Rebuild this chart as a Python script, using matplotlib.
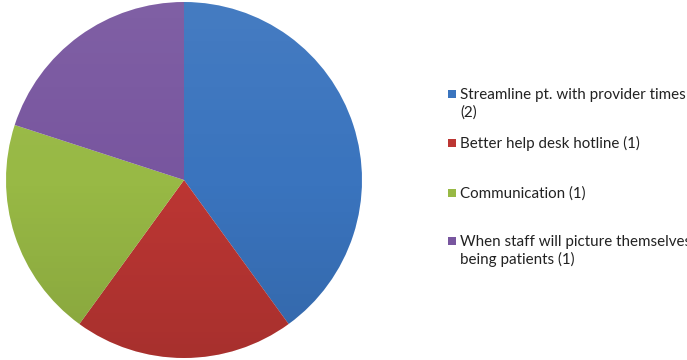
import matplotlib
matplotlib.use("Agg")
import matplotlib.pyplot as plt
import numpy as np
from matplotlib.patches import Rectangle, Circle

labels = ["Streamline pt. with provider times\n(2)",
          "Better help desk hotline (1)",
          "Communication (1)",
          "When staff will picture themselves\nbeing patients (1)"]
values = [2, 1, 1, 1]
colors = ["#3A74BE", "#BC3633", "#98B945", "#78569F"]

W, H = 687, 360
fig = plt.figure(figsize=(W/100, H/100), dpi=100)
cx, cy, r = 184, 180, 178
ax = fig.add_axes([(cx - r)/W, (H - cy - r)/H, 2*r/W, 2*r/H])
ax.pie(values, colors=colors, startangle=90, counterclock=False,
       radius=1, wedgeprops=dict(linewidth=0))
# subtle vertical shading: lighter top, darker bottom
t = np.linspace(0, 1, 256)[:, None]
grad = np.zeros((256, 1, 4))
grad[..., 0:3] = np.where(t < 0.5, 1.0, 0.0)[..., None]
grad[..., 3] = np.abs(t - 0.5) * np.where(t < 0.5, 0.12, 0.22)
im = ax.imshow(grad, extent=(-1, 1, -1, 1), aspect="auto", zorder=5,
               interpolation="bilinear")
clip = Circle((0, 0), 1, transform=ax.transData)
im.set_clip_path(clip)
ax.set_xlim(-1, 1)
ax.set_ylim(-1, 1)
ax.set_aspect("equal")
ax.axis("off")

# legend (manual layout)
baselines = [99, 148, 198, 246]  # pixel y of first text baseline
line_h = 18
for lab, col, yb in zip(labels, colors, baselines):
    fig.add_artist(Rectangle((448/W, 1 - (yb - 1)/H), 8/W, 8/H,
                             transform=fig.transFigure, facecolor=col,
                             edgecolor="none"))
    for i, line in enumerate(lab.split("\n")):
        fig.text(460/W, 1 - (yb + i*line_h)/H, line, ha="left",
                 va="baseline", family="Lato", fontsize=10.9,
                 color="#222222")

fig.savefig("out.png", dpi=100)
